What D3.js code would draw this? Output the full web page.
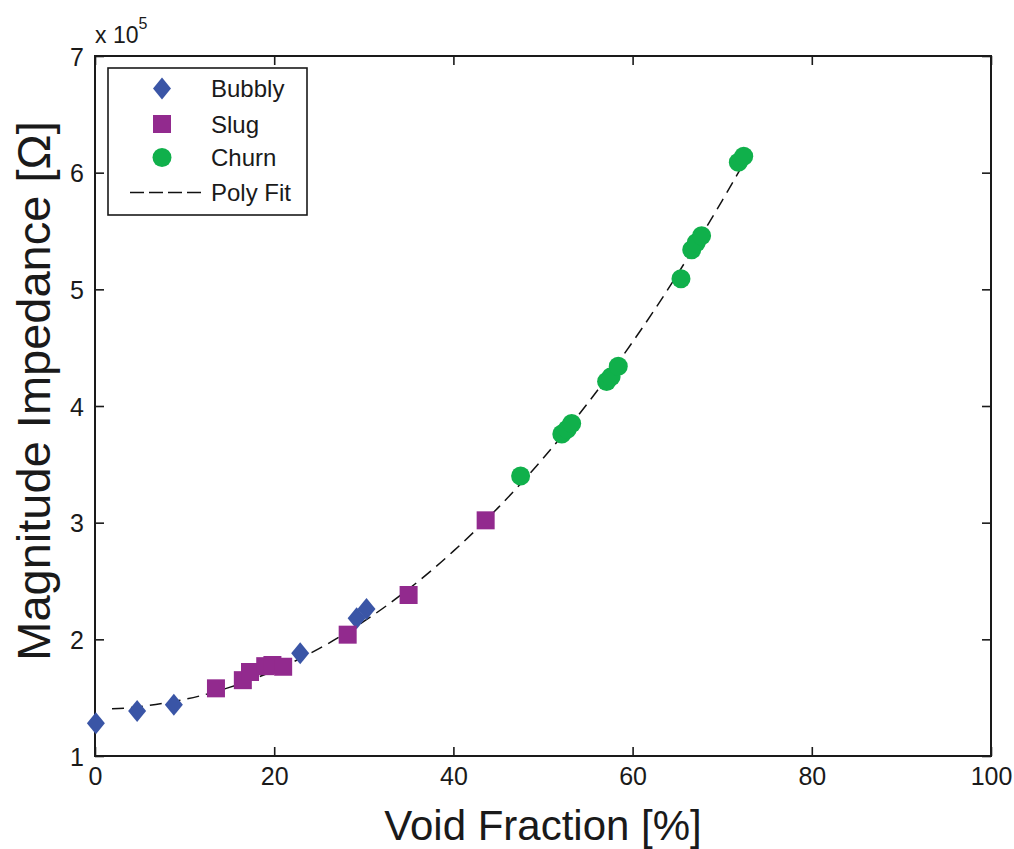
<!DOCTYPE html>
<html>
<head>
<meta charset="utf-8">
<script src="https://cdn.jsdelivr.net/npm/d3@7"></script>
<style>
  html, body { margin: 0; padding: 0; background: #fff; }
  svg { display: block; }
  text { font-family: "Liberation Sans", Arial, Helvetica, sans-serif; fill: #1a1a1a; }
</style>
</head>
<body>
<svg id="chart" width="1014" height="849"></svg>
<script>
// ---- data ----
const bubblyX = [0.1, 4.7, 8.8, 22.9, 29.2, 30.3];
const bubblyY = [1.28, 1.385, 1.44, 1.88, 2.18, 2.26];

const slugX = [13.5, 16.5, 17.3, 19.0, 19.8, 21.0, 28.2, 35.0, 43.6];
const slugY = [1.58, 1.65, 1.72, 1.77, 1.78, 1.765, 2.04, 2.38, 3.02];

const churnX = [47.5, 52.1, 52.7, 53.2, 57.1, 57.6, 58.4, 65.4, 66.6, 67.1, 67.7, 71.8, 72.4];
const churnY = [3.40, 3.76, 3.80, 3.85, 4.21, 4.25, 4.34, 5.09, 5.34, 5.40, 5.46, 6.09, 6.14];

const fitX = [1.9, 5, 10, 15, 20, 25, 30, 35, 40, 45, 50, 55, 60, 65, 70, 72.9];
const fitY = [1.405, 1.423, 1.485, 1.588, 1.732, 1.92, 2.153, 2.431, 2.756, 3.129, 3.55, 4.025, 4.549, 5.128, 5.761, 6.15];

const xTicks = [0, 20, 40, 60, 80, 100];
const yTicks = [1, 2, 3, 4, 5, 6, 7];

const legendLabels = ["Bubbly", "Slug", "Churn", "Poly Fit"];
const colors = { bubbly: "#3a55a6", slug: "#922a8e", churn: "#10b04b" };

// ---- layout ----
const svg = d3.select("#chart");
const L = 95, R = 991, T = 56, B = 756;
const x = d3.scaleLinear().domain([0, 100]).range([L, R]);
const y = d3.scaleLinear().domain([1, 7]).range([B, T]);

const tickLen = 9;
const fontTick = 25;

// axes
const gx = svg.append("g").attr("transform", `translate(0,${B})`)
  .call(d3.axisBottom(x).tickValues(xTicks).tickSize(-tickLen).tickPadding(11).tickFormat(d3.format("d")));
const gy = svg.append("g").attr("transform", `translate(${L},0)`)
  .call(d3.axisLeft(y).tickValues(yTicks).tickSize(-tickLen).tickPadding(11).tickFormat(d3.format("d")));
const gxt = svg.append("g").attr("transform", `translate(0,${T})`)
  .call(d3.axisTop(x).tickValues(xTicks).tickSize(-tickLen).tickFormat(""));
const gyr = svg.append("g").attr("transform", `translate(${R},0)`)
  .call(d3.axisRight(y).tickValues(yTicks).tickSize(-tickLen).tickFormat(""));

[gx, gy, gxt, gyr].forEach(g => {
  g.select(".domain").remove();
  g.selectAll(".tick line").attr("stroke", "#1a1a1a").attr("stroke-width", 1.6);
  g.selectAll(".tick text").attr("font-size", fontTick).attr("fill", "#1a1a1a")
    .style("font-family", '"Liberation Sans", Arial, sans-serif');
});
gx.selectAll(".tick text").attr("dy", "0.72em");
gy.selectAll(".tick text").attr("dy", "0.36em");

// frame
svg.append("rect").attr("x", L).attr("y", T).attr("width", R - L).attr("height", B - T)
  .attr("fill", "none").attr("stroke", "#1a1a1a").attr("stroke-width", 2);

// exponent label
const expT = svg.append("text").attr("x", L).attr("y", 43).attr("font-size", 23);
expT.append("tspan").text("x 10");
expT.append("tspan").attr("font-size", 16).attr("dy", -14).text("5");

// axis titles
svg.append("text").attr("x", (L + R) / 2).attr("y", 840).attr("text-anchor", "middle")
  .attr("font-size", 42).text("Void Fraction [%]");
svg.append("text").attr("transform", `translate(50,391) rotate(-90)`).attr("text-anchor", "middle")
  .attr("font-size", 47).text("Magnitude Impedance [Ω]");

// fit line
const fitData = fitX.map((d, i) => [d, fitY[i]]);
svg.append("path").datum(fitData)
  .attr("d", d3.line().x(d => x(d[0])).y(d => y(d[1])).curve(d3.curveNatural))
  .attr("fill", "none").attr("stroke", "#111").attr("stroke-width", 1.5)
  .attr("stroke-dasharray", "12,7");

// marker shapes
function diamondPath(w, h) {
  return `M0,${-h/2}L${w/2},0L0,${h/2}L${-w/2},0Z`;
}
const marks = svg.append("g");
function drawDiamonds(xs, ys, color) {
  marks.selectAll(null).data(xs.map((d, i) => [d, ys[i]])).enter().append("path")
    .attr("transform", d => `translate(${x(d[0])},${y(d[1])})`)
    .attr("d", diamondPath(18, 22)).attr("fill", color);
}
function drawSquares(xs, ys, color) {
  marks.selectAll(null).data(xs.map((d, i) => [d, ys[i]])).enter().append("rect")
    .attr("x", d => x(d[0]) - 9).attr("y", d => y(d[1]) - 9)
    .attr("width", 18).attr("height", 18).attr("fill", color);
}
function drawCircles(xs, ys, color) {
  marks.selectAll(null).data(xs.map((d, i) => [d, ys[i]])).enter().append("circle")
    .attr("cx", d => x(d[0])).attr("cy", d => y(d[1])).attr("r", 9.5).attr("fill", color);
}
drawDiamonds(bubblyX, bubblyY, colors.bubbly);
drawSquares(slugX, slugY, colors.slug);
drawCircles(churnX, churnY, colors.churn);

// legend
const lg = svg.append("g");
lg.append("rect").attr("x", 108).attr("y", 68).attr("width", 199).attr("height", 147)
  .attr("fill", "#fff").attr("stroke", "#1a1a1a").attr("stroke-width", 1.6);
const rowY = [88.5, 124, 157.5, 192.5];
const mx = 162;
lg.append("path").attr("transform", `translate(${mx},${rowY[0]})`).attr("d", diamondPath(18, 22)).attr("fill", colors.bubbly);
lg.append("rect").attr("x", mx - 9).attr("y", rowY[1] - 9).attr("width", 18).attr("height", 18).attr("fill", colors.slug);
lg.append("circle").attr("cx", mx).attr("cy", rowY[2]).attr("r", 9.5).attr("fill", colors.churn);
lg.append("line").attr("x1", 130).attr("x2", 202).attr("y1", rowY[3]).attr("y2", rowY[3])
  .attr("stroke", "#111").attr("stroke-width", 1.5).attr("stroke-dasharray", "14,5");
legendLabels.forEach((t, i) => {
  lg.append("text").attr("x", 211).attr("y", rowY[i]).attr("dy", "0.36em")
    .attr("font-size", 24).text(t);
});
</script>
</body>
</html>
